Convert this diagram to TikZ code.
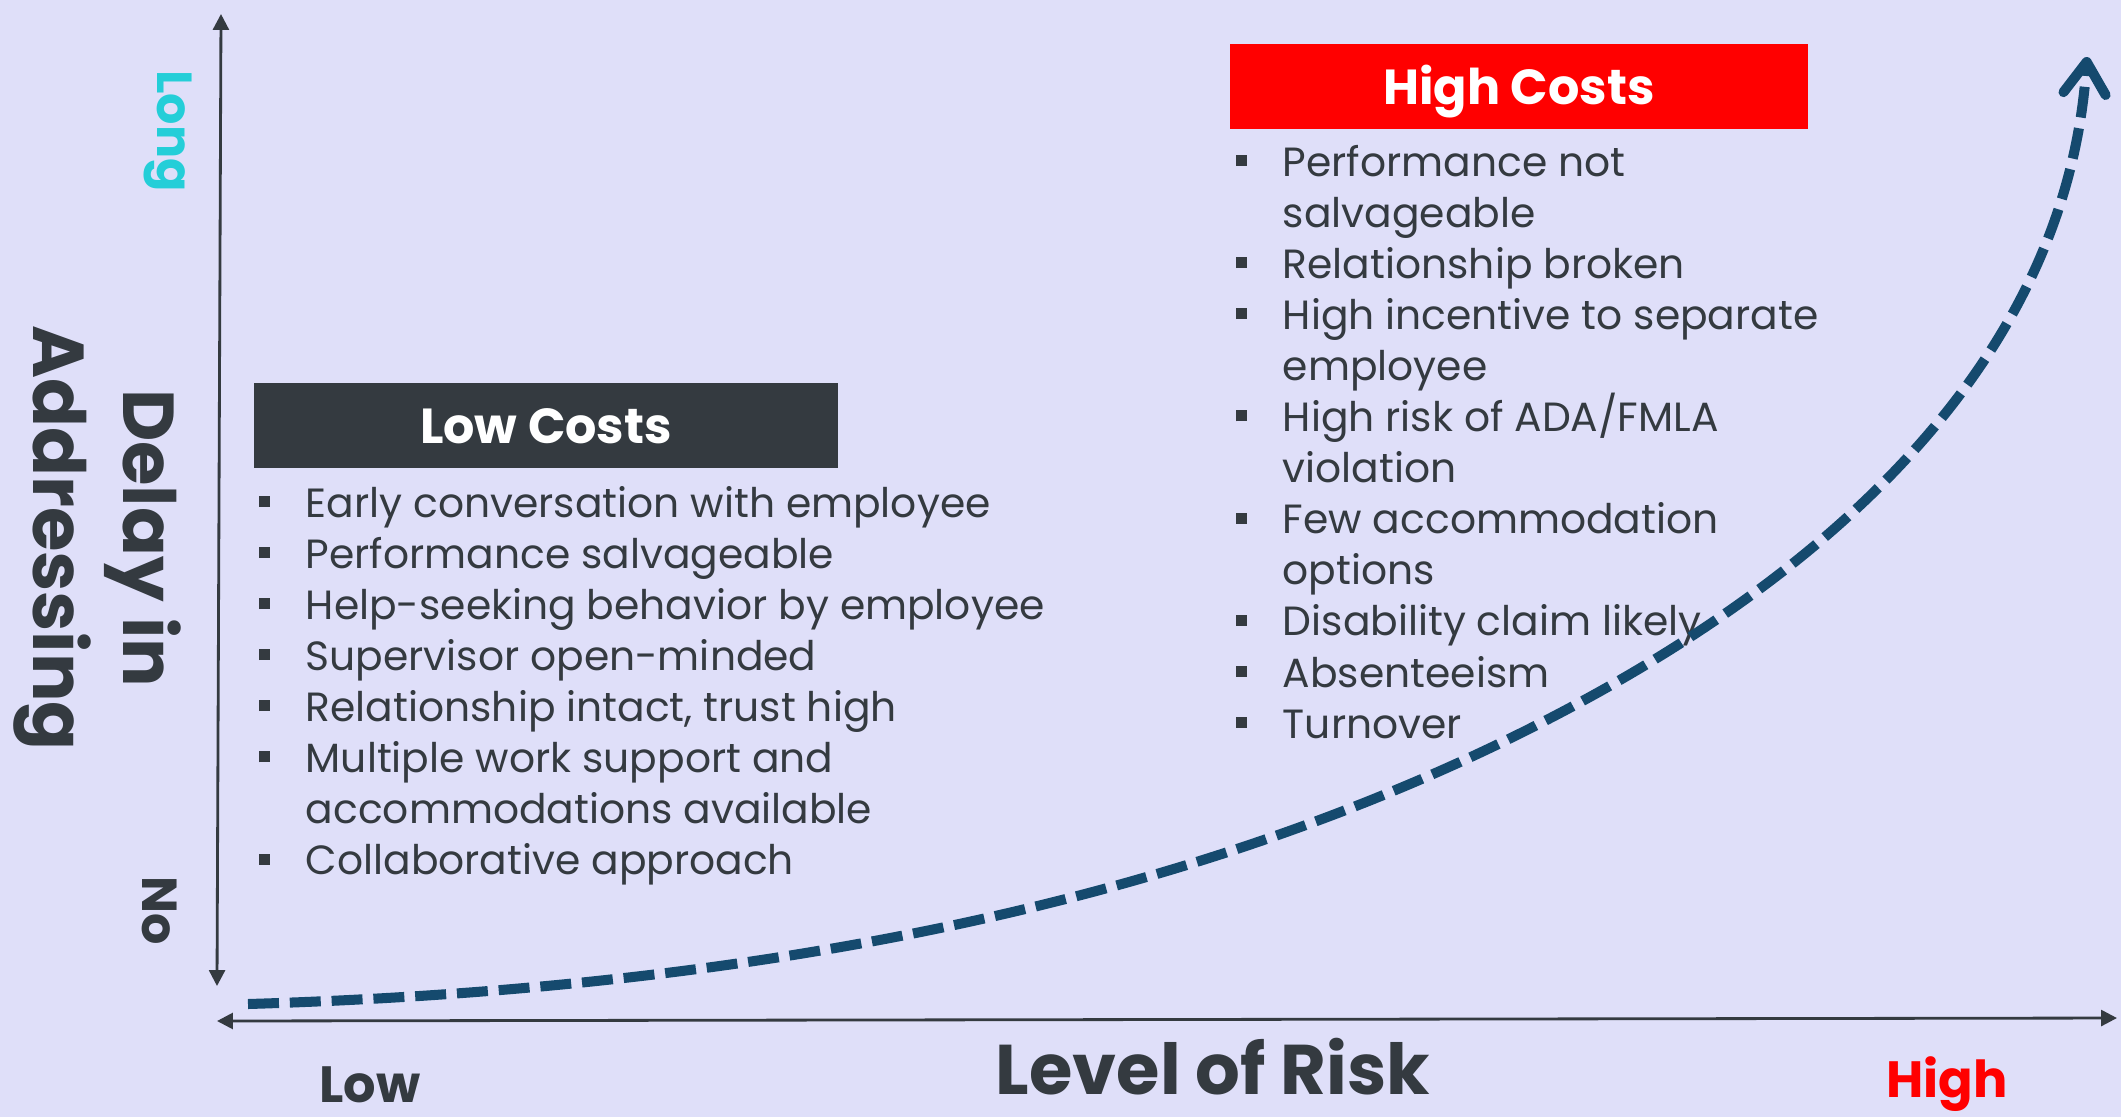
\documentclass[tikz,border=0pt]{standalone}
\usepackage{fontspec}
\setmainfont{Poppins}
\usetikzlibrary{arrows.meta}

\definecolor{bgcol}{RGB}{223,223,249}
\definecolor{inkgray}{RGB}{52,58,64}
\definecolor{curveblue}{RGB}{21,74,110}
\definecolor{longcyan}{RGB}{36,206,216}
\definecolor{hired}{RGB}{255,0,0}

\newcommand{\bul}{\makebox[13.4pt][l]{\rule[2.9pt]{3.1pt}{3.1pt}}}
\newcommand{\nob}{\hspace*{13.4pt}}

\tikzstyle{axis} = [draw=inkgray, line width=0.8pt, {Triangle[length=4.5pt,width=4.5pt]}-{Triangle[length=4.5pt,width=4.5pt]}]
\tikzstyle{costhead} = [inner sep=0pt, minimum height=0.85cm, text height=10pt, text depth=0pt, font=\fontsize{14}{17}\selectfont\bfseries, text=white]
\tikzstyle{item} = [anchor=base west, inner sep=0pt, text=inkgray, font=\fontsize{11.6}{14}\selectfont]
\tikzstyle{axislabel} = [anchor=base, inner sep=0pt, font=\fontsize{14.5}{17}\selectfont\bfseries]
\tikzstyle{risk} = [draw=curveblue, line width=2.85pt, dash pattern=on 8.8pt off 3.1pt, -{Straight Barb[length=9pt,width=12pt,round]}]

\begin{document}
\begin{tikzpicture}[x=0.01cm, y=-0.01cm]
		\useasboundingbox (0,0) rectangle (2121,1117);
		\fill [bgcol] (0,0) rectangle (2121,1117);

		\node [costhead, fill=inkgray, minimum width=5.84cm] (lowhead)  at (546,425.5) {Low Costs};
		\node [costhead, fill=hired,   minimum width=5.78cm] (highhead) at (1519,86.5) {High Costs};

		\foreach \txt [count=\i] in {{\bul Early conversation with employee},
				{\bul Performance salvageable},
				{\bul Help-seeking behavior by employee},
				{\bul Supervisor open-minded},
				{\bul Relationship intact, trust high},
				{\bul Multiple work support and},
				{\nob accommodations available},
				{\bul Collaborative approach}}
			\node [item] (low\i) at (258,{517+51.1*(\i-1)}) {\txt};

		\foreach \txt [count=\i] in {{\bul Performance not},
				{\nob salvageable},
				{\bul Relationship broken},
				{\bul High incentive to separate},
				{\nob employee},
				{\bul High risk of ADA/FMLA},
				{\nob violation},
				{\bul Few accommodation},
				{\nob options},
				{\bul Disability claim likely},
				{\bul Absenteeism},
				{\bul Turnover}}
			\node [item] (high\i) at (1235,{176+51.1*(\i-1)}) {\txt};

		\node [rotate=-90, align=center, text=inkgray, font=\fontsize{20.5}{25.6}\selectfont\bfseries] (delay) at (97,538) {Delay in\\Addressing};
		\node [axislabel, rotate=-90, text=longcyan, font=\fontsize{14}{17}\selectfont\bfseries] (long) at (157,131) {Long};
		\node [axislabel, rotate=-90, text=inkgray, font=\fontsize{14}{17}\selectfont\bfseries] (no) at (142,911) {No};
		\node [axislabel, text=inkgray] (low)  at (370,1102) {Low};
		\node [axislabel, text=hired]   (high) at (1947,1097) {High};
		\node [axislabel, text=inkgray, font=\fontsize{20}{24}\selectfont\bfseries] (risklevel) at (1213,1094) {Level of Risk};

		\coordinate (ytop)   at (221,14);
		\coordinate (ybot)   at (217,986);
		\coordinate (xleft)  at (217,1021);
		\coordinate (xright) at (2117,1018);
		\coordinate (riskstart) at (248,1004);
		\coordinate (riskmid)   at (1460,762);
		\coordinate (riskend)   at (2087,57);

		\draw [axis] (ytop) -- (ybot);
		\draw [axis] (xleft) -- (xright);
		\draw [risk] (riskstart) .. controls (748,989) and (1141,907) .. (riskmid)
			.. controls (1769,621) and (2064,397) .. (riskend);
	\end{tikzpicture}
\end{document}
